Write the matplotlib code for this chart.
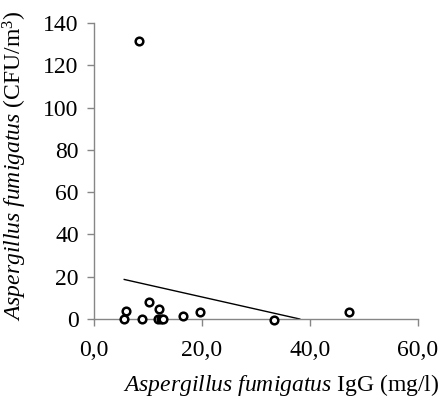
import matplotlib
matplotlib.use('Agg')
import matplotlib.pyplot as plt

# IgG (mg/l) vs CFU/m3
igg = [5.5, 6.0, 8.8, 10.1, 12.1, 11.9, 12.4, 12.8, 16.4, 19.6, 33.3, 47.3, 8.4]
cfu = [0.0, 3.6, 0.0, 8.2, 4.7, 0.0, 0.0, 0.0, 1.4, 3.2, -0.3, 3.2, 131.3]

# linear trendline as drawn (start / end)
trend_x = [5.6, 38.1]
trend_y = [18.7, 0.0]

xticks = [0, 20, 40, 60]
yticks = [0, 20, 40, 60, 80, 100, 120, 140]

plt.rcParams['font.family'] = ['Liberation Serif', 'DejaVu Serif']
plt.rcParams['mathtext.fontset'] = 'custom'
plt.rcParams['mathtext.rm'] = 'Liberation Serif'
plt.rcParams['mathtext.it'] = 'Liberation Serif:italic'

fig = plt.figure(figsize=(4.44, 3.98), dpi=100)
ax = fig.add_axes([94/444, 1 - 319/398, 324/444, 296/398])

ax.plot(trend_x, trend_y, color='black', lw=1.0)
ax.plot(igg, cfu, linestyle='none', marker='o', markersize=5.5,
        markerfacecolor='white', markeredgecolor='black', markeredgewidth=1.8,
        clip_on=False, zorder=3)

ax.set_xlim(0, 60)
ax.set_ylim(0, 140)
ax.set_xticks(xticks)
ax.set_xticklabels([f'{t:.1f}'.replace('.', ',') for t in xticks])
ax.set_yticks(yticks)

for s in ['top', 'right']:
    ax.spines[s].set_visible(False)
for s in ['left', 'bottom']:
    ax.spines[s].set_color('#868686')
    ax.spines[s].set_linewidth(1.0)
ax.tick_params(direction='out', length=5, width=1.0, color='#868686',
               labelsize=17, pad=6)
ax.tick_params(axis='x', pad=10)

fig.text(281/444, 1 - 385/398, r'$\mathit{Aspergillus\ fumigatus}$ IgG (mg/l)',
         fontsize=17, ha='center', va='center')
fig.text(15/444, 1 - 166/398, r'$\mathit{Aspergillus\ fumigatus}$ (CFU/m$^3$)',
         fontsize=17, ha='center', va='center', rotation=90)

fig.savefig('out.png', dpi=100)
